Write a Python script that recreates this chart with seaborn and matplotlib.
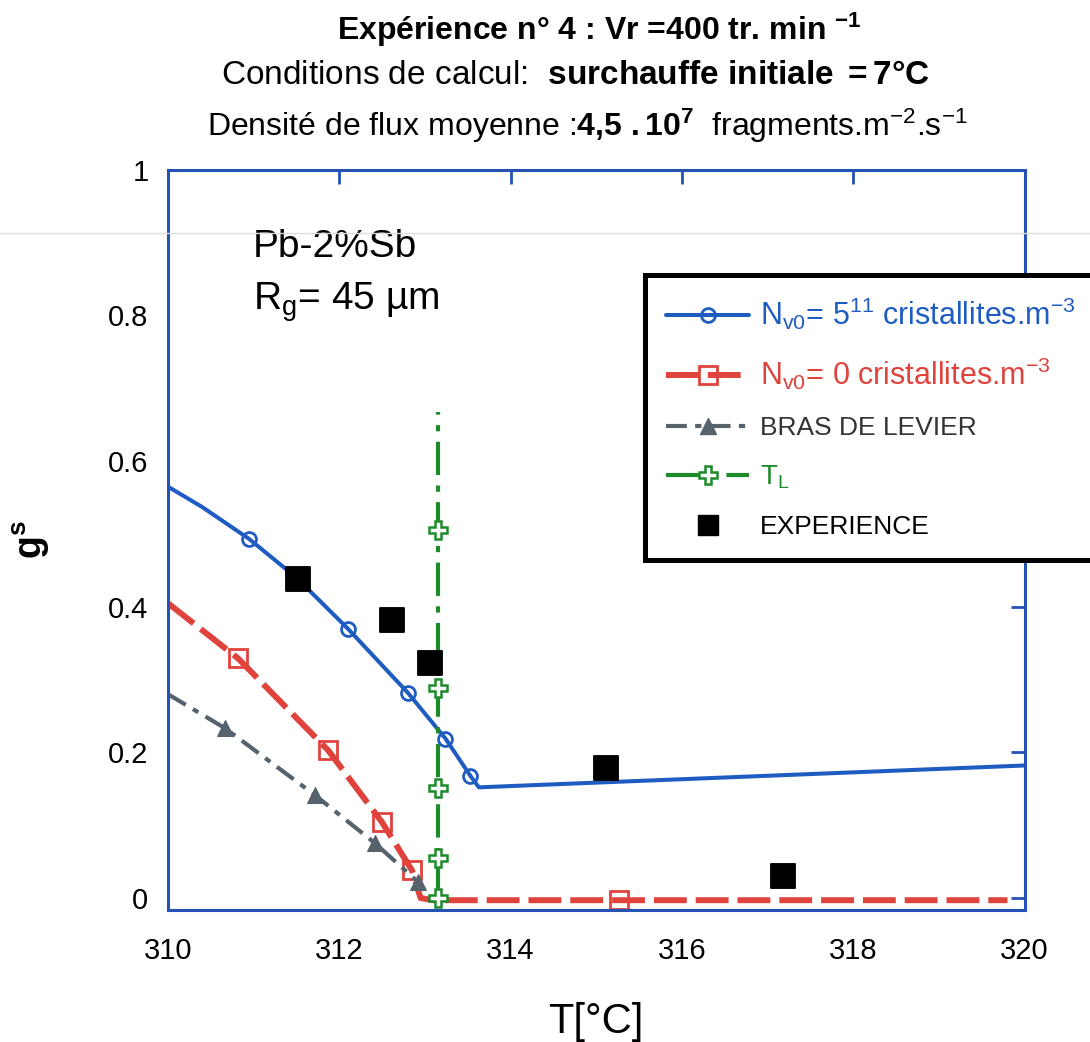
import numpy as np
import pandas as pd
import matplotlib
matplotlib.use('Agg')
import matplotlib.pyplot as plt
from matplotlib.lines import Line2D
import seaborn as sns

# ==========================================
# données
# ==========================================
T_nv5 = [310.0, 310.4, 310.95, 311.5, 312.1, 312.8, 313.24, 313.53, 313.63, 320.0]
g_nv5 = [0.565, 0.537, 0.493, 0.44, 0.37, 0.282, 0.219, 0.168, 0.152, 0.182]
mk_nv5 = [2, 4, 5, 6, 7]

T_nv0 = [310.0, 310.82, 311.87, 312.5, 312.85, 312.95, 313.1, 315.26, 319.8]
g_nv0 = [0.405, 0.329, 0.203, 0.104, 0.038, 0.0, -0.003, -0.003, -0.003]
mk_nv0 = [1, 2, 3, 4, 7]

T_levier = [310.0, 310.67, 311.72, 312.42, 312.92, 312.95]
g_levier = [0.28, 0.233, 0.141, 0.075, 0.022, 0.014]
mk_levier = [1, 2, 3, 4]

T_liq = [313.15, 313.15, 313.15, 313.15, 313.15, 313.15]
g_liq = [0.0, 0.055, 0.151, 0.289, 0.505, 0.668]
mk_liq = [0, 1, 2, 3, 4]

T_exp = [311.52, 312.62, 313.06, 315.11, 317.18]
g_exp = [0.438, 0.382, 0.323, 0.178, 0.030]

x_ticks = [310, 312, 314, 316, 318, 320]
y_ticks = [0, 0.2, 0.4, 0.6, 0.8, 1]
y_ticklabels = ['0', '0.2', '0.4', '0.6', '0.8', '1']

labels = [r'$N_{v0}$= 5$^{11}$ cristallites.m$^{-3}$',
          r'$N_{v0}$= 0 cristallites.m$^{-3}$',
          'BRAS DE LEVIER', r'T$_{L}$', 'EXPERIENCE']

BLUE = '#1f5cc2'
RED = '#e0423c'
GREY = '#56636d'
GREEN = '#1e8a2c'
AXIS_BLUE = '#2552b5'

# ==========================================
# style
# ==========================================
sns.set_style('white')
plt.rcParams['font.family'] = ['Liberation Sans', 'DejaVu Sans']
plt.rcParams['text.color'] = 'black'
plt.rcParams['axes.labelcolor'] = 'black'
plt.rcParams['mathtext.fontset'] = 'custom'
plt.rcParams['mathtext.rm'] = 'Liberation Sans'
plt.rcParams['mathtext.it'] = 'Liberation Sans:italic'
plt.rcParams['mathtext.bf'] = 'Liberation Sans:bold'
plt.rcParams['mathtext.default'] = 'regular'

fig = plt.figure(figsize=(10.9, 10.42), dpi=100)
ax = fig.add_axes([0.154, 0.127, 0.786, 0.710])

# ligne parasite du scan
fig.add_artist(Line2D([0, 1], [1 - 233 / 1042] * 2, color='#dcdcdc', lw=1, zorder=0.5))

df5 = pd.DataFrame({'T': T_nv5, 'g': g_nv5})
df0 = pd.DataFrame({'T': T_nv0, 'g': g_nv0})
dfl = pd.DataFrame({'T': T_levier, 'g': g_levier})
dft = pd.DataFrame({'T': T_liq, 'g': g_liq})
dfe = pd.DataFrame({'T': T_exp, 'g': g_exp})

styles = [
    dict(color=BLUE, lw=2.9, ls='-', marker='o', ms=10, mfc='none', mec=BLUE, mew=2),
    dict(color=RED, lw=4.3, dashes=(5.5, 1.5), marker='s', ms=13, mfc='none', mec=RED, mew=2),
    dict(color=GREY, lw=3, dashes=(5, 2, 1.5, 2), marker='^', ms=12, mfc=GREY, mec=GREY),
    dict(color=GREEN, lw=3, dashes=(8, 2.5, 1.5, 2.5), marker='P', ms=13, mfc='white', mec=GREEN, mew=1.8),
]

for d, mk, st in zip([df5, df0, dfl, dft], [mk_nv5, mk_nv0, mk_levier, mk_liq], styles):
    sns.lineplot(data=d, x='T', y='g', sort=False, estimator=None, ax=ax,
                 markevery=mk, legend=False, **st)

sns.scatterplot(data=dfe, x='T', y='g', ax=ax, color='black', marker='s', s=280,
                edgecolor='black', zorder=5, legend=False)

ax.set_xlim(310, 320)
ax.set_ylim(-0.016, 1.0)
ax.set_xticks(x_ticks)
ax.set_xticklabels([str(t) for t in x_ticks])
ax.set_yticks(y_ticks)
ax.set_yticklabels(y_ticklabels)
ax.tick_params(direction='in', length=10, width=2, color=AXIS_BLUE,
               top=True, right=True, labelsize=21, labelcolor='black')
ax.tick_params(axis='x', pad=20)
ax.tick_params(axis='y', pad=14)
for sp in ax.spines.values():
    sp.set_color(AXIS_BLUE)
    sp.set_linewidth(2.2)

ax.set_xlabel('T[°C]', fontsize=30, labelpad=26)
ax.set_ylabel('g$^{s}$', fontsize=27, fontweight='bold', labelpad=40)

ax.text(0.099, 0.882, 'Pb-2%Sb', transform=ax.transAxes, fontsize=28, va='baseline')
ax.text(0.099, 0.811, r'R$_{g}$= 45 µm', transform=ax.transAxes, fontsize=28, va='baseline')

# titres
fig.text(0.55, 0.971, r'Expérience n° 4 : Vr =400 tr. min $^{\mathbf{-1}}$',
         ha='center', va='center', fontsize=23, fontweight='bold')
fig.text(0.528, 0.928, r'Conditions de calcul:  $\mathbf{surchauffe\ initiale\ {=}7°C}$',
         ha='center', va='center', fontsize=24)
fig.text(0.539, 0.879, r'Densité de flux moyenne :$\mathbf{4{,}5\ .10^{7}}$  fragments.m$^{-2}$.s$^{-1}$',
         ha='center', va='center', fontsize=23)

# légende (proxies sans markevery)
handles = [Line2D([], [], **st) for st in styles]
handles.append(Line2D([], [], ls='none', marker='s', ms=15, color='black'))

leg = ax.legend(handles, labels, loc='upper left',
                bbox_to_anchor=(645 / 1090, 1 - 275 / 1042),
                bbox_transform=fig.transFigure, borderaxespad=0,
                frameon=True, fancybox=False, framealpha=1, fontsize=20,
                handlelength=3.0, handletextpad=0.4, labelspacing=0.85,
                borderpad=0.75)
leg.get_frame().set_edgecolor('black')
leg.get_frame().set_linewidth(3.6)
text_colors = [BLUE, RED, '#333333', GREEN, 'black']
text_sizes = [22, 22, 19, 20, 19]
for t, c, s in zip(leg.get_texts(), text_colors, text_sizes):
    t.set_color(c)
    t.set_fontsize(s)

fig.savefig('out.png', dpi=100)
